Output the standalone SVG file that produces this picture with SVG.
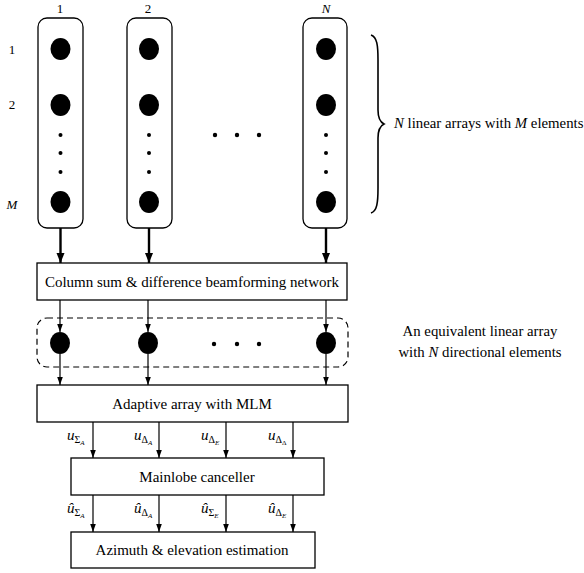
<svg xmlns="http://www.w3.org/2000/svg" width="584" height="573" viewBox="0 0 584 573" font-family="'Liberation Serif', 'Times New Roman', Times, serif">
<style>
text{font-family:'Liberation Serif','Times New Roman',Times,serif;fill:#000}
.box{fill:#fff;stroke:#000;stroke-width:1.3}
.col{fill:#fff;stroke:#000;stroke-width:1.3}
.el{fill:#000}
.thick{stroke:#000;stroke-width:2.4;fill:none}
.thin{stroke:#000;stroke-width:1.2;fill:none}
.bt{font-size:15px;text-anchor:middle}
.lbl{font-size:14.8px}
.it{font-style:italic}
</style>
<defs>
<marker id="ah" viewBox="0 0 10 10" refX="10" refY="5" markerWidth="10" markerHeight="10" markerUnits="userSpaceOnUse" orient="auto"><path d="M0,1 L10,5 L0,9 Z" fill="#000"/></marker>
<marker id="ahs" viewBox="0 0 10 10" refX="10" refY="5" markerWidth="8" markerHeight="8" markerUnits="userSpaceOnUse" orient="auto"><path d="M0,1.5 L10,5 L0,8.5 Z" fill="#000"/></marker>
</defs>

<g id="labels-top">
<text x="60" y="13" font-size="13" text-anchor="middle">1</text>
<text x="148" y="13" font-size="13" text-anchor="middle">2</text>
<text x="326" y="13" font-size="13" text-anchor="middle" class="it">N</text>
<text x="12" y="54" font-size="13" text-anchor="middle">1</text>
<text x="12" y="109" font-size="13" text-anchor="middle">2</text>
<text x="12" y="209" font-size="13" text-anchor="middle" class="it">M</text>
</g>

<g id="column1">
<rect class="col" x="38" y="18" width="45" height="210" rx="9"/>
<ellipse class="el" cx="60.5" cy="49" rx="10" ry="11"/>
<ellipse class="el" cx="60.5" cy="105" rx="10" ry="11"/>
<circle class="el" cx="60.5" cy="135" r="2"/>
<circle class="el" cx="60.5" cy="153" r="2"/>
<circle class="el" cx="60.5" cy="172" r="2"/>
<ellipse class="el" cx="60.5" cy="202" rx="10" ry="11"/>
</g>
<g id="column2">
<rect class="col" x="127" y="18" width="45" height="210" rx="9"/>
<ellipse class="el" cx="149" cy="49" rx="10" ry="11"/>
<ellipse class="el" cx="149" cy="105" rx="10" ry="11"/>
<circle class="el" cx="149" cy="135" r="2"/>
<circle class="el" cx="149" cy="153" r="2"/>
<circle class="el" cx="149" cy="172" r="2"/>
<ellipse class="el" cx="149" cy="202" rx="10" ry="11"/>
</g>
<g id="columnN">
<rect class="col" x="303" y="18" width="44" height="210" rx="9"/>
<ellipse class="el" cx="326" cy="49" rx="10" ry="11"/>
<ellipse class="el" cx="326" cy="105" rx="10" ry="11"/>
<circle class="el" cx="326" cy="135" r="2"/>
<circle class="el" cx="326" cy="153" r="2"/>
<circle class="el" cx="326" cy="172" r="2"/>
<ellipse class="el" cx="326" cy="202" rx="10" ry="11"/>
</g>
<g id="hdots-top">
<circle class="el" cx="215" cy="135" r="2.2"/>
<circle class="el" cx="237" cy="135" r="2.2"/>
<circle class="el" cx="259" cy="135" r="2.2"/>
</g>

<g id="brace">
<path d="M371,35 C377,37 378,45 378,60 L378,110 C378,118 380,122 384,124 C380,126 378,130 378,138 L378,188 C378,203 377,211 371,213" fill="none" stroke="#000" stroke-width="1.6"/>
<text class="lbl" x="394" y="128"><tspan class="it">N</tspan> linear arrays with <tspan class="it">M</tspan> elements</text>
</g>

<g id="beamformer">
<rect class="box" x="37" y="263" width="310" height="37"/>
<text class="bt" x="192" y="287">Column sum &amp; difference beamforming network</text>
</g>

<g id="equiv-array">
<rect x="37" y="318" width="311" height="49" rx="10" fill="none" stroke="#000" stroke-width="1.2" stroke-dasharray="6,4"/>
<ellipse class="el" cx="60" cy="343" rx="10" ry="11"/>
<ellipse class="el" cx="148" cy="343" rx="10" ry="11"/>
<ellipse class="el" cx="326" cy="343" rx="10" ry="11"/>
<circle class="el" cx="214" cy="344" r="2.2"/>
<circle class="el" cx="237" cy="344" r="2.2"/>
<circle class="el" cx="259" cy="344" r="2.2"/>
<text class="lbl" x="480" y="336" text-anchor="middle">An equivalent linear array</text>
<text class="lbl" x="480" y="357" text-anchor="middle">with <tspan class="it">N</tspan> directional elements</text>
</g>

<g id="adaptive">
<rect class="box" x="37" y="385" width="311" height="37"/>
<text class="bt" x="192" y="409">Adaptive array with MLM</text>
</g>

<g id="mainlobe">
<rect class="box" x="71" y="458" width="253" height="37"/>
<text class="bt" x="197" y="482">Mainlobe canceller</text>
</g>

<g id="estimation">
<rect class="box" x="71" y="532" width="244" height="36"/>
<text class="bt" x="192" y="555">Azimuth &amp; elevation estimation</text>
</g>

<g id="connectors">
<line class="thick" x1="60.5" y1="228" x2="60.5" y2="263" marker-end="url(#ah)"/>
<line class="thick" x1="149" y1="228" x2="149" y2="263" marker-end="url(#ah)"/>
<line class="thick" x1="326" y1="228" x2="326" y2="263" marker-end="url(#ah)"/>

<line class="thin" x1="60" y1="300" x2="60" y2="332" marker-end="url(#ahs)"/>
<line class="thin" x1="148" y1="300" x2="148" y2="332" marker-end="url(#ahs)"/>
<line class="thin" x1="326" y1="300" x2="326" y2="332" marker-end="url(#ahs)"/>
<line class="thin" x1="60" y1="354" x2="60" y2="385" marker-end="url(#ahs)"/>
<line class="thin" x1="148" y1="354" x2="148" y2="385" marker-end="url(#ahs)"/>
<line class="thin" x1="326" y1="354" x2="326" y2="385" marker-end="url(#ahs)"/>

<line class="thin" x1="93" y1="422" x2="93" y2="458" marker-end="url(#ahs)"/>
<line class="thin" x1="159" y1="422" x2="159" y2="458" marker-end="url(#ahs)"/>
<line class="thin" x1="226" y1="422" x2="226" y2="458" marker-end="url(#ahs)"/>
<line class="thin" x1="293" y1="422" x2="293" y2="458" marker-end="url(#ahs)"/>

<line class="thin" x1="93" y1="495" x2="93" y2="532" marker-end="url(#ahs)"/>
<line class="thin" x1="159" y1="495" x2="159" y2="532" marker-end="url(#ahs)"/>
<line class="thin" x1="226" y1="495" x2="226" y2="532" marker-end="url(#ahs)"/>
<line class="thin" x1="293" y1="495" x2="293" y2="532" marker-end="url(#ahs)"/>
</g>

<g id="signal-labels" font-size="15">
<text x="67" y="440"><tspan class="it">u</tspan><tspan dy="3" font-size="10">Σ</tspan><tspan dy="2" font-size="7" class="it">A</tspan></text>
<text x="134" y="440"><tspan class="it">u</tspan><tspan dy="3" font-size="10">Δ</tspan><tspan dy="2" font-size="7" class="it">A</tspan></text>
<text x="201" y="440"><tspan class="it">u</tspan><tspan dy="3" font-size="10">Δ</tspan><tspan dy="2" font-size="7" class="it">E</tspan></text>
<text x="268" y="440"><tspan class="it">u</tspan><tspan dy="3" font-size="10">Δ</tspan><tspan dy="2" font-size="7">Δ</tspan></text>

<text x="67" y="513"><tspan class="it">û</tspan><tspan dy="3" font-size="10">Σ</tspan><tspan dy="2" font-size="7" class="it">A</tspan></text>
<text x="134" y="513"><tspan class="it">û</tspan><tspan dy="3" font-size="10">Δ</tspan><tspan dy="2" font-size="7" class="it">A</tspan></text>
<text x="201" y="513"><tspan class="it">û</tspan><tspan dy="3" font-size="10">Σ</tspan><tspan dy="2" font-size="7" class="it">E</tspan></text>
<text x="268" y="513"><tspan class="it">û</tspan><tspan dy="3" font-size="10">Δ</tspan><tspan dy="2" font-size="7" class="it">E</tspan></text>
</g>
</svg>
